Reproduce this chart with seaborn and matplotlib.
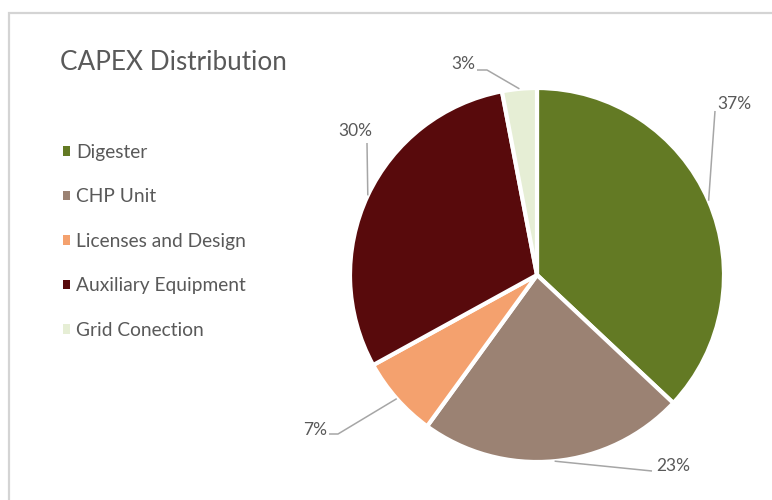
import numpy as np
import matplotlib
matplotlib.use("Agg")
import matplotlib.pyplot as plt
import seaborn as sns
from matplotlib.patches import Rectangle

# CAPEX breakdown (share of total, %)
categories = ["Digester", "CHP Unit", "Licenses and Design",
              "Auxiliary Equipment", "Grid Conection"]
shares = [37, 23, 7, 30, 3]
colors = ["#637A24", "#9B8273", "#F4A16E", "#580A0C", "#E6EED5"]

sns.set_theme(style="white")
plt.rcParams["font.family"] = ["Lato", "DejaVu Sans"]
palette = sns.color_palette(colors)

W, H = 772, 500
fig = plt.figure(figsize=(W / 100, H / 100), dpi=100)
fig.patch.set_facecolor("white")
ax = fig.add_axes([0, 0, 1, 1])


def py(v):
    """Convert a top-down pixel row into axis units."""
    return H - v


# chart-area frame (runs off the right and bottom edges)
fig.patches.append(Rectangle((8.5 / W, -0.1), 1.2, 1.1 - 13 / H,
                             transform=fig.transFigure, fill=False,
                             edgecolor="#D4D4D4", lw=1.6))

cx, cy, r = 537, py(275), 187
wedges, _ = ax.pie(shares, colors=palette, startangle=90, counterclock=False,
                   center=(cx, cy), radius=r,
                   wedgeprops=dict(edgecolor="white", linewidth=3))
ax.set_xlim(0, W)
ax.set_ylim(0, H)
ax.set_aspect("equal")
ax.set_axis_off()

# data-label layout: (elbow points in px, text anchor in px, ha)
label_layout = [
    ([(715, 111)], (717, 104), "left"),
    ([(652, 471)], (656, 466), "left"),
    ([(338, 434), (329, 434)], (327, 430), "right"),
    ([(367, 143)], (355, 131), "center"),
    ([(487, 70), (477, 70)], (475, 64), "right"),
]
line_color = "#A6A6A6"
text_color = "#595959"
for w, val, (elbows, (tx, ty), ha) in zip(wedges, shares, label_layout):
    mid = np.deg2rad((w.theta1 + w.theta2) / 2)
    ex, ey = cx + r * np.cos(mid), cy + r * np.sin(mid)
    xs = [ex] + [p[0] for p in elbows]
    ys = [ey] + [py(p[1]) for p in elbows]
    ax.plot(xs, ys, color=line_color, lw=1.1, solid_capstyle="butt")
    ax.text(tx, py(ty), f"{val}%", ha=ha, va="center", fontsize=12.5,
            color=text_color)

# title
ax.text(60, py(62), "CAPEX Distribution", ha="left", va="center",
        fontsize=18.8, color=text_color)

# legend
leg = ax.legend(wedges, categories, loc="upper left",
                bbox_to_anchor=(55 / W, 1 - 136 / H),
                bbox_transform=fig.transFigure, frameon=False,
                fontsize=13.8, handlelength=0.4, handleheight=0.4,
                handletextpad=0.3, labelspacing=1.44, borderaxespad=0)
for t in leg.get_texts():
    t.set_color(text_color)
for h in leg.legend_handles:
    h.set_edgecolor("none")

fig.savefig("out.png", dpi=100, facecolor="white")
